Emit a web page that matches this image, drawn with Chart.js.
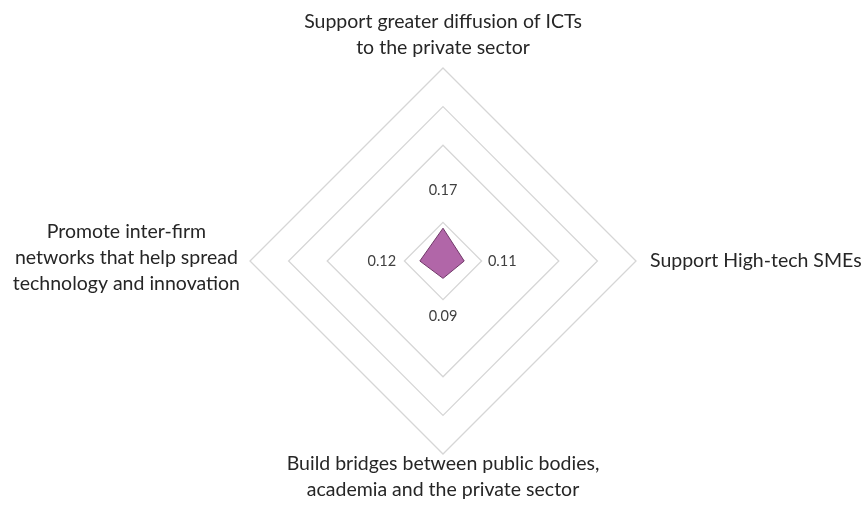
<!DOCTYPE html>
<html>
<head>
<meta charset="utf-8">
<script src="https://cdn.jsdelivr.net/npm/chart.js@4"></script>
<style>
  html, body { margin: 0; padding: 0; background: #fff; }
</style>
</head>
<body>
<canvas id="chart" width="861" height="506"></canvas>
<script>
// Axes (clockwise from top)
const categories = [
    ['Support greater diffusion of ICTs', 'to the private sector'],
    ['Support High-tech SMEs'],
    ['Build bridges between public bodies,', 'academia and the private sector'],
    ['Promote inter-firm', 'networks that help spread', 'technology and innovation']
];
const scores = [0.17, 0.11, 0.09, 0.12];
const scaleTicks = [0, 0.2, 0.4, 0.6, 0.8, 1.0];

// Axis labels drawn by hand so multi-line text stays centred like the original
const axisLabels = {
    id: 'axisLabels',
    afterDraw(chart) {
        const ctx = chart.ctx;
        const scale = chart.scales.r;
        const lh = 26;
        ctx.save();
        ctx.font = '19.5px Lato';
        ctx.fillStyle = '#262626';
        ctx.textAlign = 'center';
        ctx.textBaseline = 'middle';
        categories.forEach((lines, i) => {
            const v = scale.getPointPosition(i, scale.drawingArea);
            const dx = v.x - scale.xCenter;
            const dy = v.y - scale.yCenter;
            const w = Math.max(...lines.map(t => ctx.measureText(t).width));
            const h = lines.length * lh;
            let cx, top;
            if (Math.abs(dy) > Math.abs(dx)) {
                cx = v.x;
                top = dy < 0 ? v.y - 7 - h : v.y - 3;
            } else {
                cx = dx < 0 ? v.x - 10 - w / 2 : v.x + 14 + w / 2;
                top = v.y - h / 2 - (dx < 0 ? 3 : 0);
            }
            lines.forEach((t, k) => ctx.fillText(t, cx, top + lh * (k + 0.5)));
        });
        ctx.restore();
    }
};

// Value labels placed outward from each point
const valueLabels = {
    id: 'valueLabels',
    afterDatasetsDraw(chart) {
        const ctx = chart.ctx;
        const scale = chart.scales.r;
        const meta = chart.getDatasetMeta(0);
        ctx.save();
        ctx.font = '14.5px Lato';
        ctx.fillStyle = '#404040';
        ctx.textAlign = 'center';
        ctx.textBaseline = 'middle';
        meta.data.forEach((pt, i) => {
            const dx = pt.x - scale.xCenter;
            const dy = pt.y - scale.yCenter;
            const len = Math.sqrt(dx * dx + dy * dy) || 1;
            const off = 38;
            ctx.fillText(scores[i].toFixed(2), pt.x + dx / len * off, pt.y + dy / len * off);
        });
        ctx.restore();
    }
};

const chart = new Chart(document.getElementById('chart'), {
    type: 'radar',
    data: {
        labels: categories,
        datasets: [{
            data: scores,
            backgroundColor: 'rgb(177, 102, 168)',
            borderColor: 'rgb(112, 56, 104)',
            borderWidth: 1,
            pointRadius: 0,
            fill: true
        }]
    },
    options: {
        responsive: false,
        animation: false,
        layout: { padding: { top: 68, bottom: 52, left: 199, right: 174 } },
        plugins: {
            legend: { display: false },
            tooltip: { enabled: false }
        },
        scales: {
            r: {
                min: scaleTicks[0],
                max: scaleTicks[scaleTicks.length - 1],
                ticks: { display: false, stepSize: 0.2 },
                angleLines: { display: false },
                pointLabels: { display: false },
                grid: {
                    color: (c) => (c.tick && Math.abs(c.tick.value - scaleTicks[2]) < 1e-9) ? 'rgba(0,0,0,0)' : '#d6d6d6',
                    lineWidth: 1.3
                }
            }
        }
    },
    plugins: [valueLabels, axisLabels]
});
</script>
</body>
</html>
